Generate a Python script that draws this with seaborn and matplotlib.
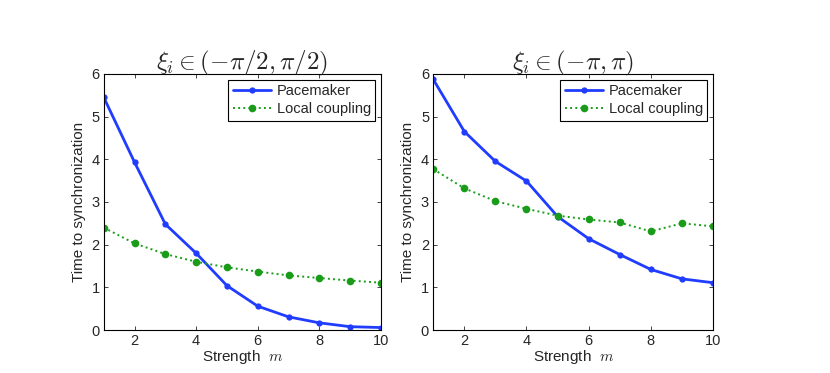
import numpy as np
import matplotlib
matplotlib.use("Agg")
import matplotlib.pyplot as plt
import pandas as pd
import seaborn as sns

sns.set_style("ticks")
plt.rcParams['font.family'] = ['Liberation Sans', 'DejaVu Sans']
plt.rcParams['mathtext.fontset'] = 'cm'
plt.rcParams['xtick.direction'] = 'in'
plt.rcParams['ytick.direction'] = 'in'

# datos
m = [1, 2, 3, 4, 5, 6, 7, 8, 9, 10]
pace_half = [5.45, 3.93, 2.48, 1.80, 1.04, 0.56, 0.31, 0.17, 0.08, 0.06]
local_half = [2.40, 2.03, 1.78, 1.60, 1.47, 1.37, 1.28, 1.22, 1.16, 1.11]
pace_full = [5.87, 4.65, 3.95, 3.49, 2.66, 2.14, 1.77, 1.42, 1.20, 1.11]
local_full = [3.77, 3.32, 3.02, 2.84, 2.68, 2.59, 2.52, 2.31, 2.50, 2.43]
titulos = [r'$\xi_i \in (-\pi/2, \pi/2)$', r'$\xi_i \in (-\pi, \pi)$']

azul = '#1f3cff'
verde = '#1a9c1a'

fig = plt.figure(figsize=(8.3, 3.73), dpi=100)
ax1 = fig.add_axes([0.125, 0.115, 0.334, 0.687])
ax2 = fig.add_axes([0.522, 0.115, 0.337, 0.687])

datos = [(ax1, pace_half, local_half), (ax2, pace_full, local_full)]

for i, (ax, pace, local) in enumerate(datos):
    df = pd.DataFrame({'m': m, 'Pacemaker': pace, 'Local coupling': local})
    sns.lineplot(data=df, x='m', y='Pacemaker', ax=ax, color=azul, lw=2,
                 marker='o', markersize=4.5, markeredgewidth=0, label='Pacemaker')
    sns.lineplot(data=df, x='m', y='Local coupling', ax=ax, color=verde, lw=1.4,
                 linestyle=':', marker='o', markersize=5.5, markeredgewidth=0,
                 label='Local coupling')
    ax.set_xlim(1, 10)
    ax.set_ylim(0, 6)
    ax.set_xticks([2, 4, 6, 8, 10])
    ax.set_yticks([0, 1, 2, 3, 4, 5, 6])
    ax.tick_params(top=True, right=True, labelsize=10.5, length=3, width=0.6, pad=3)
    for s in ax.spines.values():
        s.set_linewidth(0.8)
        s.set_color('black')
    ax.set_title(titulos[i], fontsize=18, pad=3)
    ax.set_xlabel(r'Strength  $m$', fontsize=11, labelpad=0)
    ax.set_ylabel('Time to synchronization', fontsize=11, labelpad=4)
    leg = ax.legend(loc='upper right', fontsize=10.5, fancybox=False, framealpha=1,
                    edgecolor='black', borderaxespad=0.4, handlelength=2.6,
                    borderpad=0.3, labelspacing=0.3, handletextpad=0.4)
    leg.get_frame().set_linewidth(0.8)

fig.savefig('out.png', dpi=100)
